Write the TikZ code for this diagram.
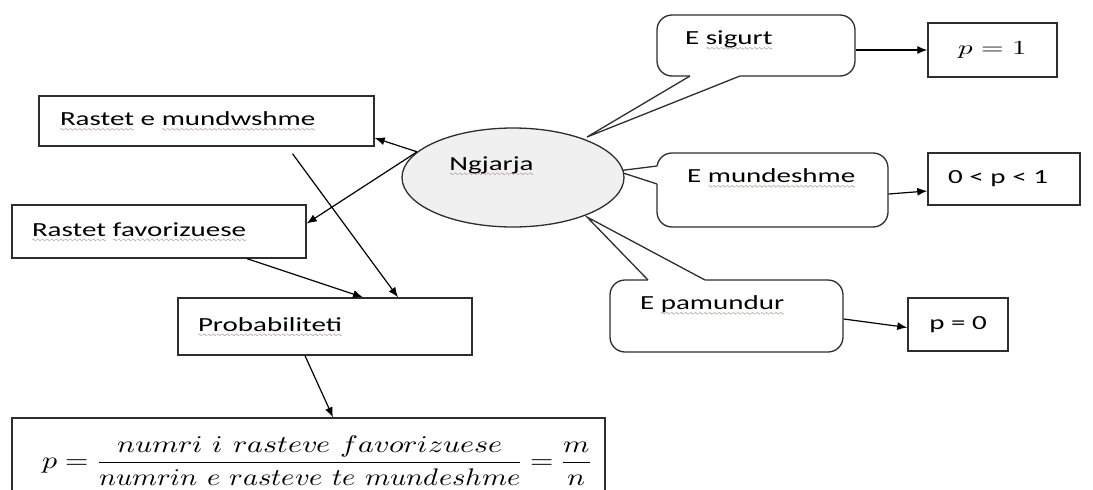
\documentclass[tikz,border=0pt]{standalone}
\usepackage{fontspec}
\usepackage{unicode-math}
\setmainfont{Carlito}[FakeStretch=1.45]
\setmathfont{Latin Modern Math}
\usetikzlibrary{arrows.meta,shapes.geometric}
\definecolor{wavec}{rgb}{0.76,0.64,0.64}
\definecolor{ellfill}{gray}{0.94}
\definecolor{edge}{gray}{0.18}
\newsavebox\wavebox
\sbox\wavebox{\tikz[x=1pt,y=1pt,line width=0.6pt]\draw[wavec] (0,0) sin (1,0.9) cos (2,0) sin (3,-0.9) cos (4,0);}
\newcommand\sq[1]{\setbox0\hbox{#1}\rlap{\lower5pt\hbox to \wd0{\xleaders\copy\wavebox\hfil}}\box0\relax}
\newcommand\up[2]{\raisebox{#1}[\height][\depth]{#2}}
\newcommand\sx[2]{\scalebox{#1}[1]{#2}}
\begin{document}
\begin{tikzpicture}[x=1pt,y=-1pt,
  txt/.style={font=\fontsize{20}{24}\selectfont, text height=14pt, text depth=5pt},
  box/.style={draw=edge, line width=1.4pt, fill=white, txt, align=left, inner ysep=0pt},
  bubble/.style={draw=edge, line width=1.3pt, rounded corners=15pt, fill=white, txt, align=left, inner ysep=0pt},
  conn/.style={line width=1.2pt, -{Latex[length=10pt,width=8pt]}},
  ptr/.style={draw=edge, line width=1.3pt, line join=miter}
]
\useasboundingbox (0,0) rectangle (1093,490);
\clip (0,0) rectangle (1093,490);

% left boxes
\node[box, inner xsep=21pt, text width=293pt, minimum height=50pt] (rm) at (206.5,121) {\sq{Rastet} e \sq{mundwshme}};
\node[box, inner xsep=20pt, text width=254pt, minimum height=53pt] (rf) at (159,231.5) {\sq{Rastet} \sq{favorizuese}};
\node[box, inner xsep=20pt, text width=254pt, minimum height=57pt] (prob) at (325,326.5) {\sq{Probabiliteti}};
\node[draw=edge, line width=1.4pt, fill=white, align=left, inner xsep=30pt, inner ysep=0pt, text width=533pt, minimum height=97pt, font=\fontsize{24}{28}\selectfont] (form) at (308.5,466.5)
  {\up{6pt}{\sx{1.25}{$\displaystyle p=\frac{numri\ i\ rasteve\ favorizuese}{\sx{0.95}{$numrin\,\,e\,\,rasteve\,\,te\,\,mundeshme$}}=\frac{m}{n}$}}};

% callouts
\node[bubble, inner xsep=28pt, text width=142pt, minimum height=61pt] (sig) at (756,45.5) {\up{5.5pt}{E \sq{sigurt}}};
\fill[white] (690,74) -- (740,74) -- (740,76) -- (587,137) -- (690,76) -- cycle;
\draw[ptr] (690,76) -- (587,137) -- (740,76);

\node[bubble, inner xsep=30pt, text width=171pt, minimum height=74pt] (mun) at (772.5,190) {\up{12pt}{E \sq{mundeshme}}};
\fill[white] (659,166) -- (659,184) -- (657,184) -- (617,171) -- (657,166) -- cycle;
\draw[ptr] (657,166) -- (617,171) -- (657,184);

\node[bubble, inner xsep=30pt, text width=173pt, minimum height=72pt] (pam) at (726.5,316) {\up{11pt}{E \sq{pamundur}}};
\fill[white] (648,282) -- (705,282) -- (705,280) -- (587,217) -- (648,280) -- cycle;
\draw[ptr] (648,280) -- (587,217) -- (705,280);

% ellipse
\node[ellipse, draw=edge, line width=1.3pt, fill=ellfill, minimum width=222pt, minimum height=99pt, txt, inner sep=0pt] (ev) at (513,177.5) {\up{12pt}{\hspace*{-43pt}\sq{Ngjarja}}};

% result boxes
\node[box, minimum width=129pt, minimum height=54pt, inner xsep=0pt] (p1) at (992.5,50) {\sx{1.45}{$p=1$}};
\node[box, inner xsep=20pt, text width=112pt, minimum height=52pt] (p01) at (1004,179) {0 < p < 1};
\node[box, minimum width=100pt, minimum height=53pt, inner xsep=0pt] (p0) at (958,324.5) {p = 0};

% connectors
\draw[conn] (ev.165) -- ([yshift=-17pt]rm.east);
\draw[conn] (ev.165) -- ([yshift=8pt]rf.east);
\draw[conn] ([xshift=86pt,yshift=-7pt]rm.south) -- ([xshift=73pt]prob.north);
\draw[conn] ([xshift=88pt]rf.south) -- ([xshift=38pt]prob.north);
\draw[conn] ([xshift=-20pt]prob.south) -- ([xshift=24.5pt]form.north);
\draw[conn] ([yshift=-4.5pt]sig.east) -- (p1.west);
\draw[conn] ([yshift=-4pt]mun.east) -- ([yshift=-12pt]p01.west);
\draw[conn] ([yshift=-3pt]pam.east) -- ([yshift=-3pt]p0.west);
\end{tikzpicture}
\end{document}
